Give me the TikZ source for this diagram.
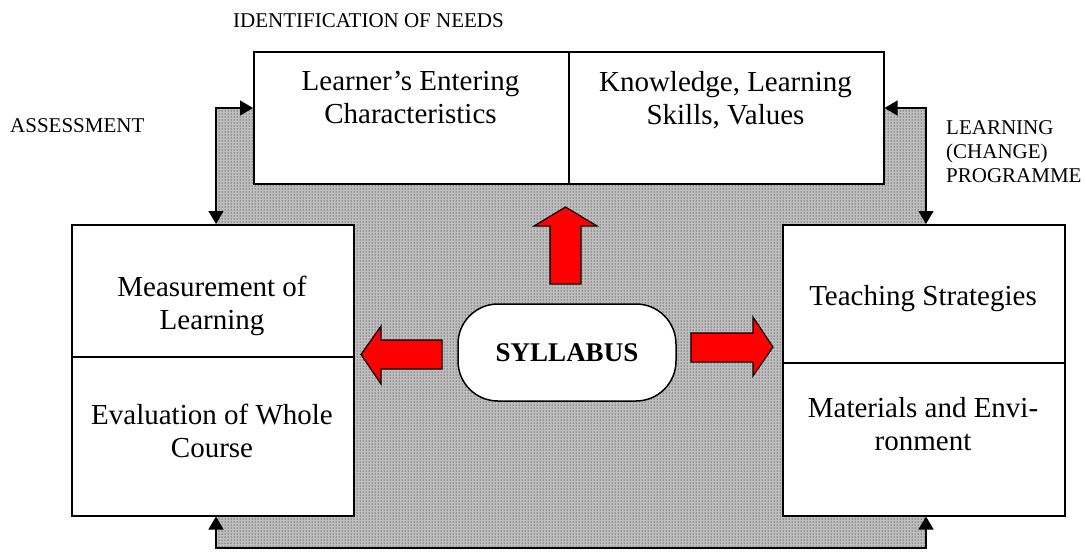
\documentclass[tikz,border=0pt]{standalone}
\usepackage{fontspec}
\setmainfont{Liberation Serif}
\usetikzlibrary{arrows.meta, patterns}

\begin{document}
\begin{tikzpicture}[
    x=1pt, y=-1pt,
    every node/.style={inner sep=0pt, align=center},
    cell/.style 2 args={draw, line width=1.5pt, fill=white, anchor=north west,
        minimum width=#1pt, minimum height=#2pt},
    big/.style={font=\fontsize{29}{33}\selectfont},
    small/.style={font=\fontsize{21}{24}\selectfont},
    link/.style={line width=1.3pt, {Triangle[width=15pt,length=13pt]}-{Triangle[width=15pt,length=13pt]}},
    blockarrow/.style={fill=red, draw=black, line width=1.2pt}
]
\useasboundingbox (0,0) rectangle (1086,552);

% shaded field
\fill[gray!50] (216,108) rectangle (926,548);
\fill[pattern=dots, pattern color=black] (216,108) rectangle (926,548);

\coordinate (nw) at (216,108);
\coordinate (ne) at (926,108);
\coordinate (sw) at (216,548);
\coordinate (se) at (926,548);

% boxes
\node[cell={315}{132}] (learner) at (253,51) {};
\node[cell={315}{132}] (knowledge) at (568,51) {};
\node[cell={282}{132}] (measure) at (71,224) {};
\node[cell={282}{159}] (evaluate) at (71,356) {};
\node[cell={282}{138}] (teach) at (782,224) {};
\node[cell={282}{153}] (material) at (782,362) {};

\node[big, anchor=north] (learnertext) at (410.5,71) {Learner’s Entering\\Characteristics};
\node[big, anchor=north] (knowledgetext) at (725.5,71) {Knowledge, Learning\\Skills, Values};
\node[big, anchor=north] (measuretext) at (212,276) {Measurement of\\Learning};
\node[big, anchor=north] (evaluatetext) at (212,404) {Evaluation of Whole\\Course};
\node[big, anchor=north] (teachtext) at (923,285) {Teaching Strategies};
\node[big, anchor=north] (materialtext) at (923,397) {Materials and Envi-\\ronment};

% labels
\node[small, anchor=west] (needs) at (233,21) {IDENTIFICATION OF NEEDS};
\node[small, anchor=west] (assess) at (10,126) {ASSESSMENT};
\node[small, anchor=north west, align=left] (programme) at (946,120) {LEARNING\\(CHANGE)\\PROGRAMME};

% syllabus
\node[draw, line width=1.5pt, fill=white, rounded corners=40pt,
    minimum width=218pt, minimum height=97pt,
    font=\bfseries\fontsize{27}{30}\selectfont] (syllabus) at (567,352.5) {SYLLABUS};

% red arrows
\draw[blockarrow] (550,284) -- (550,226) -- (534,226) -- (565.5,207) -- (597,226) -- (581,226) -- (581,284) -- cycle;
\draw[blockarrow] (442,340) -- (381,340) -- (381,326) -- (361,354.5) -- (381,384) -- (381,369) -- (442,369) -- cycle;
\draw[blockarrow] (691,333) -- (753,333) -- (753,317) -- (773,347) -- (753,376) -- (753,362) -- (691,362) -- cycle;

% loop
\draw[link] (nw -| learner.west) -- (nw) -- (nw |- measure.north);
\draw[link] (ne -| knowledge.east) -- (ne) -- (ne |- teach.north);
\draw[link] (sw |- evaluate.south) -- (sw) -- (se) -- (se |- material.south);

\end{tikzpicture}
\end{document}
